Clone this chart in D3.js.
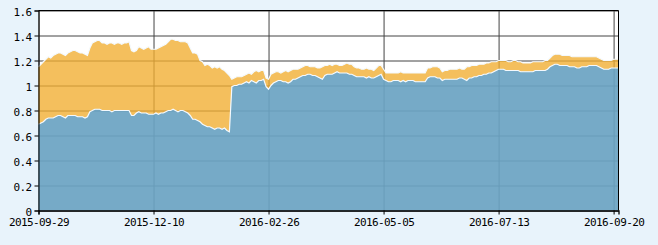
<!DOCTYPE html>
<html>
<head>
<meta charset="utf-8">
<script src="https://cdn.jsdelivr.net/npm/d3@7"></script>
<style>
  html, body { margin: 0; padding: 0; background: #e8f3fb; }
  svg { display: block; }
  .lbl { font-family: "DejaVu Sans Mono", monospace; font-size: 11px; letter-spacing: -0.6px; fill: #000; }
</style>
</head>
<body>
<div id="chart"></div>
<script>
// x axis labels, one every 47 trading days
var tickLabels = ["2015-09-29", "2015-12-10", "2016-02-26", "2016-05-05", "2016-07-13", "2016-09-20"];
var tickStep = 47;

var yTicks = [0, 0.2, 0.4, 0.6, 0.8, 1, 1.2, 1.4, 1.6];

// upper series (orange band top)
var upper = [
  1.15, 1.17, 1.19, 1.21, 1.23, 1.22, 1.24, 1.25, 1.26, 1.26,
  1.25, 1.24, 1.26, 1.27, 1.28, 1.28, 1.27, 1.26, 1.26, 1.25,
  1.24, 1.30, 1.34, 1.35, 1.36, 1.36, 1.34, 1.34, 1.33, 1.34,
  1.34, 1.33, 1.34, 1.34, 1.33, 1.34, 1.34, 1.35, 1.28, 1.27,
  1.28, 1.31, 1.30, 1.29, 1.30, 1.31, 1.29, 1.29, 1.29, 1.30,
  1.31, 1.32, 1.33, 1.35, 1.37, 1.37, 1.36, 1.36, 1.35, 1.35,
  1.35, 1.34, 1.30, 1.26, 1.26, 1.25, 1.20, 1.19, 1.16, 1.17,
  1.16, 1.14, 1.15, 1.14, 1.15, 1.13, 1.12, 1.10, 1.08, 1.05,
  1.06, 1.07, 1.07, 1.07, 1.08, 1.09, 1.10, 1.09, 1.11, 1.12,
  1.11, 1.12, 1.12, 1.06, 1.05, 1.09, 1.10, 1.11, 1.11, 1.10,
  1.11, 1.12, 1.11, 1.12, 1.13, 1.13, 1.13, 1.14, 1.15, 1.16,
  1.16, 1.15, 1.15, 1.15, 1.14, 1.14, 1.15, 1.16, 1.16, 1.17,
  1.16, 1.17, 1.17, 1.16, 1.16, 1.17, 1.18, 1.17, 1.17, 1.15,
  1.14, 1.14, 1.13, 1.13, 1.14, 1.13, 1.13, 1.12, 1.14, 1.16,
  1.16, 1.13, 1.10, 1.10, 1.10, 1.10, 1.10, 1.10, 1.11, 1.10,
  1.10, 1.10, 1.10, 1.10, 1.10, 1.10, 1.10, 1.10, 1.10, 1.14,
  1.14, 1.15, 1.15, 1.15, 1.14, 1.11, 1.12, 1.12, 1.13, 1.13,
  1.13, 1.13, 1.14, 1.13, 1.13, 1.15, 1.15, 1.16, 1.16, 1.16,
  1.17, 1.17, 1.17, 1.18, 1.18, 1.19, 1.19, 1.19, 1.20, 1.20,
  1.20, 1.20, 1.19, 1.19, 1.20, 1.20, 1.19, 1.19, 1.18, 1.18,
  1.18, 1.18, 1.19, 1.19, 1.19, 1.19, 1.19, 1.20, 1.20, 1.22,
  1.24, 1.25, 1.25, 1.25, 1.24, 1.24, 1.24, 1.24, 1.23, 1.23,
  1.23, 1.23, 1.23, 1.23, 1.23, 1.23, 1.23, 1.23, 1.23, 1.22,
  1.21, 1.20, 1.20, 1.20, 1.20, 1.21, 1.21, 1.21
];

// lower series (blue area)
var lower = [
  0.69, 0.70, 0.71, 0.73, 0.74, 0.74, 0.74, 0.75, 0.76, 0.76,
  0.75, 0.74, 0.76, 0.76, 0.76, 0.76, 0.75, 0.75, 0.75, 0.74,
  0.75, 0.79, 0.80, 0.81, 0.81, 0.81, 0.80, 0.80, 0.80, 0.80,
  0.79, 0.80, 0.80, 0.80, 0.80, 0.80, 0.80, 0.80, 0.76, 0.76,
  0.78, 0.79, 0.78, 0.78, 0.78, 0.77, 0.77, 0.77, 0.78, 0.77,
  0.78, 0.78, 0.79, 0.80, 0.80, 0.81, 0.80, 0.79, 0.80, 0.80,
  0.79, 0.78, 0.76, 0.73, 0.73, 0.72, 0.71, 0.69, 0.68, 0.67,
  0.67, 0.66, 0.65, 0.66, 0.66, 0.65, 0.66, 0.64, 0.63, 0.99,
  1.00, 1.00, 1.01, 1.01, 1.02, 1.03, 1.02, 1.04, 1.03, 1.02,
  1.04, 1.04, 1.05, 0.99, 0.97, 1.00, 1.02, 1.03, 1.04, 1.04,
  1.03, 1.03, 1.02, 1.03, 1.05, 1.05, 1.06, 1.07, 1.08, 1.08,
  1.09, 1.09, 1.08, 1.08, 1.07, 1.06, 1.05, 1.08, 1.09, 1.09,
  1.09, 1.10, 1.11, 1.10, 1.10, 1.10, 1.10, 1.09, 1.09, 1.08,
  1.07, 1.07, 1.07, 1.07, 1.06, 1.07, 1.06, 1.06, 1.07, 1.08,
  1.09, 1.05, 1.04, 1.03, 1.03, 1.04, 1.04, 1.04, 1.03, 1.04,
  1.03, 1.04, 1.04, 1.04, 1.03, 1.03, 1.03, 1.03, 1.03, 1.06,
  1.07, 1.07, 1.07, 1.06, 1.06, 1.04, 1.05, 1.05, 1.05, 1.05,
  1.05, 1.05, 1.06, 1.06, 1.05, 1.04, 1.06, 1.06, 1.07, 1.07,
  1.08, 1.08, 1.09, 1.09, 1.10, 1.10, 1.11, 1.12, 1.13, 1.13,
  1.13, 1.12, 1.12, 1.12, 1.12, 1.12, 1.12, 1.11, 1.11, 1.11,
  1.11, 1.11, 1.11, 1.12, 1.12, 1.12, 1.12, 1.12, 1.13, 1.15,
  1.16, 1.17, 1.17, 1.16, 1.16, 1.16, 1.16, 1.15, 1.15, 1.15,
  1.14, 1.14, 1.15, 1.15, 1.15, 1.16, 1.16, 1.16, 1.16, 1.15,
  1.14, 1.13, 1.13, 1.13, 1.14, 1.14, 1.14, 1.14
];

var width = 658,
    height = 245;

// plot box
var plotL = 38.5, plotR = 618.5, plotT = 10.5, plotB = 210.5;

var svg = d3.select("#chart")
    .append("svg")
    .attr("width", width)
    .attr("height", height);

var n = upper.length;

var x = d3.scaleLinear()
    .domain([0, n - 1])
    .range([plotL, plotR]);

var y = d3.scaleLinear()
    .domain([0, 1.6])
    .range([plotB, plotT]);

// plot background
svg.append("rect")
    .attr("x", plotL).attr("y", plotT)
    .attr("width", plotR - plotL).attr("height", plotB - plotT)
    .attr("fill", "#fff");

// grid lines (drawn under the translucent areas)
var tickIdx = tickLabels.map((d, i) => i * tickStep);

svg.append("g")
    .attr("transform", `translate(${plotL},0)`)
    .call(d3.axisLeft(y).tickValues(yTicks).tickSize(-(plotR - plotL)).tickFormat(""))
    .call(g => g.select(".domain").remove())
    .selectAll("line").attr("stroke", "#444");

svg.append("g")
    .attr("transform", `translate(0,${plotT})`)
    .call(d3.axisBottom(x).tickValues(tickIdx).tickSize(plotB - plotT).tickFormat(""))
    .call(g => g.select(".domain").remove())
    .selectAll("line").attr("stroke", "#444");

// orange band between the two series
var band = d3.area()
    .x((d, i) => x(i))
    .y0((d, i) => y(lower[i]))
    .y1((d) => y(d));

var lowArea = d3.area()
    .x((d, i) => x(i))
    .y0(y(0))
    .y1((d) => y(d));

svg.append("path")
    .datum(upper)
    .attr("d", band)
    .attr("fill", "#f1ad30")
    .attr("fill-opacity", 0.78);

svg.append("path")
    .datum(lower)
    .attr("d", lowArea)
    .attr("fill", "#6aa3c2")
    .attr("fill-opacity", 0.92);

// light edge on top of each area
var edge = d3.line()
    .x((d, i) => x(i))
    .y((d) => y(d));

[upper, lower].forEach(function (s) {
    svg.append("path")
        .datum(s)
        .attr("d", edge)
        .attr("fill", "none")
        .attr("stroke", "#f4f9fd")
        .attr("stroke-width", 1.2);
});

// frame
svg.append("path")
    .attr("d", `M${plotL},${plotT}H${plotR}V${plotB}`)
    .attr("fill", "none")
    .attr("stroke", "#000");

// y axis
var yAxis = svg.append("g")
    .attr("transform", `translate(${plotL},0)`)
    .call(d3.axisLeft(y).tickValues(yTicks).tickSize(4).tickPadding(3)
        .tickFormat((d) => d === 0 || d === 1 ? String(d) : d3.format(".1f")(d)));
yAxis.select(".domain").attr("stroke", "#000");
yAxis.selectAll("line").attr("stroke", "#000");
yAxis.selectAll("text").attr("class", "lbl").attr("dy", "0.45em");

// x axis
var xAxis = svg.append("g")
    .attr("transform", `translate(0,${plotB})`)
    .call(d3.axisBottom(x).tickValues(tickIdx).tickSize(4).tickPadding(4)
        .tickFormat((d, i) => tickLabels[i]));
xAxis.select(".domain").attr("stroke", "#000").attr("stroke-width", 1.3);
xAxis.selectAll("line").attr("stroke", "#000");
xAxis.selectAll("text").attr("class", "lbl");
</script>
</body>
</html>
